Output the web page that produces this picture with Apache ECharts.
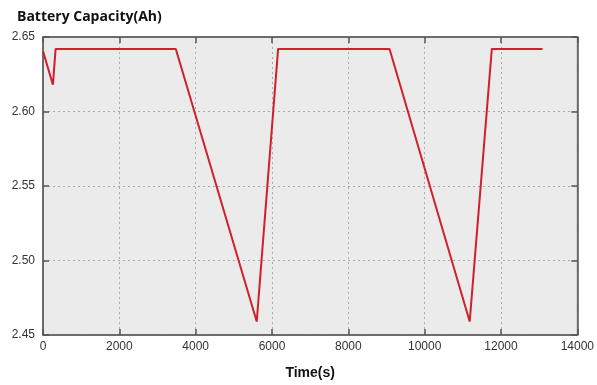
<!DOCTYPE html>
<html><head><meta charset="utf-8">
<script src="https://cdn.jsdelivr.net/npm/echarts@6/dist/echarts.min.js"></script>
<style>html,body{margin:0;padding:0;background:#fff}#c{width:597px;height:385px}</style>
</head><body><div id="c"></div>
<script>
const timeS = [0, 260, 330, 3480, 5600, 6160, 9080, 11180, 11760, 13090];
const capacityAh = [2.6405, 2.618, 2.642, 2.642, 2.459, 2.642, 2.642, 2.459, 2.642, 2.642];
const xTicks = [0, 14000, 2000];
const yTicks = [2.45, 2.65, 0.05];

const chart = echarts.init(document.getElementById('c'));
const font = 'Liberation Sans, Arial, sans-serif';
const axisCommon = {
  axisLine: {show: true, onZero: false, lineStyle: {color: '#555', width: 1.5}},
  axisTick: {show: true, inside: true, length: 6, lineStyle: {color: '#555', width: 1.5}},
};
chart.setOption({
  animation: false,
  title: {text: 'Battery Capacity(Ah)', left: 12, top: 5,
    textStyle: {fontFamily: 'Open Sans, sans-serif', fontWeight: 'bold', fontSize: 14, color: '#111'}},
  grid: {left: 43, right: 17, top: 37, bottom: 46, show: true, backgroundColor: '#ebebeb', borderColor: '#777', borderWidth: 1},
  xAxis: [{
    type: 'value', min: xTicks[0], max: xTicks[1], interval: xTicks[2],
    name: 'Time(s)', nameLocation: 'middle', nameGap: 31,
    nameTextStyle: {fontFamily: font, fontWeight: 'bold', fontSize: 14, color: '#111'},
    axisLabel: {fontFamily: font, fontSize: 12, color: '#333', margin: 6, formatter: v => String(v)},
    splitLine: {show: true, lineStyle: {type: [2, 3], color: '#aaa', width: 1}},
    ...axisCommon
  }, {
    type: 'value', position: 'top', min: xTicks[0], max: xTicks[1], interval: xTicks[2],
    axisLabel: {show: false}, splitLine: {show: false}, ...axisCommon
  }],
  yAxis: [{
    type: 'value', min: yTicks[0], max: yTicks[1], interval: yTicks[2],
    axisLabel: {fontFamily: font, fontSize: 12, color: '#333', margin: 8, formatter: v => v.toFixed(2)},
    splitLine: {show: true, lineStyle: {type: [2, 3], color: '#aaa', width: 1}},
    ...axisCommon
  }, {
    type: 'value', position: 'right', min: yTicks[0], max: yTicks[1], interval: yTicks[2],
    axisLabel: {show: false}, splitLine: {show: false}, ...axisCommon
  }],
  series: [{
    type: 'line', data: timeS.map((t, i) => [t, capacityAh[i]]),
    showSymbol: false, lineStyle: {color: '#d0202c', width: 2}, itemStyle: {color: '#d0202c'}
  }]
});
</script></body></html>
